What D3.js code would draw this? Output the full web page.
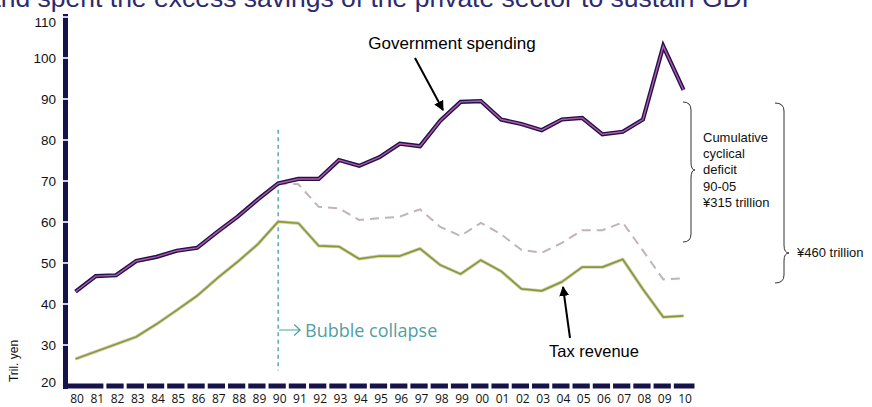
<!DOCTYPE html>
<html>
<head>
<meta charset="utf-8">
<script src="https://cdn.jsdelivr.net/npm/d3@7/dist/d3.min.js"></script>
<style>
  body { margin: 0; background: #fff; }
  svg { display: block; }
</style>
</head>
<body>
<svg id="chart" width="872" height="407"></svg>
<script>
// data (trillion yen, fiscal years 1980-2010)
const years = [1980, 1981, 1982, 1983, 1984, 1985, 1986, 1987, 1988, 1989, 1990,
  1991, 1992, 1993, 1994, 1995, 1996, 1997, 1998, 1999, 2000,
  2001, 2002, 2003, 2004, 2005, 2006, 2007, 2008, 2009, 2010];
const yearLabels = ['80', '81', '82', '83', '84', '85', '86', '87', '88', '89', '90',
  '91', '92', '93', '94', '95', '96', '97', '98', '99', '00',
  '01', '02', '03', '04', '05', '06', '07', '08', '09', '10'];
const govSpending = [43.0, 46.8, 47.0, 50.5, 51.5, 53.0, 53.7, 57.6, 61.3, 65.5, 69.4,
  70.5, 70.5, 75.1, 73.7, 75.8, 79.1, 78.5, 84.7, 89.3, 89.5,
  85.0, 83.9, 82.4, 85.0, 85.4, 81.4, 82.0, 85.0, 102.9, 92.2];
const taxRevenue = [26.6, 28.4, 30.2, 32.0, 35.1, 38.5, 42.0, 46.3, 50.3, 54.6, 60.1,
  59.7, 54.2, 54.0, 51.0, 51.7, 51.7, 53.5, 49.5, 47.3, 50.7,
  48.0, 43.7, 43.2, 45.4, 49.0, 49.0, 50.9, 43.6, 36.8, 37.1];
// trend revenue (dashed) from the bubble peak onwards
const trendYears = [1990, 1991, 1992, 1993, 1994, 1995, 1996, 1997, 1998, 1999, 2000,
  2001, 2002, 2003, 2004, 2005, 2006, 2007, 2008, 2009, 2010];
const trendRevenue = [69.4, 69.2, 63.7, 63.3, 60.5, 60.9, 61.3, 63.1, 58.8, 56.6, 59.8,
  57.0, 53.2, 52.5, 54.9, 58.0, 58.0, 59.9, 53.0, 46.0, 46.3];
const yTicks = [20, 30, 40, 50, 60, 70, 80, 90, 100, 110];

const svg = d3.select('#chart');

const x = d3.scaleLinear().domain([1980, 2010]).range([75.5, 683.5]);
const y = d3.scaleLinear().domain([20, 110]).range([386, 17]);
const step = x(1981) - x(1980);

const navy = '#16124a';

// title, cut off at the top of the slide as in the original
svg.append('text')
  .attr('x', -14)
  .attr('y', 6.5)
  .attr('font-family', 'Liberation Sans, Arial, sans-serif')
  .attr('font-size', 26.5)
  .attr('fill', '#2d2a6e')
  .text('and spent the excess savings of the private sector to sustain GDP');

// y axis: thick bar with white gaps at the ticks
svg.append('line')
  .attr('x1', 65.5).attr('x2', 65.5)
  .attr('y1', y(110) - 3).attr('y2', y(20) + 3)
  .attr('stroke', navy).attr('stroke-width', 5);

svg.selectAll('.ygap')
  .data(yTicks.filter(d => d > 20))
  .enter().append('line')
  .attr('class', 'ygap')
  .attr('x1', 62).attr('x2', 69)
  .attr('y1', d => y(d)).attr('y2', d => y(d))
  .attr('stroke', '#fff').attr('stroke-width', 1.6);

const yaxis = d3.axisLeft(y).tickValues(yTicks).tickSize(0).tickPadding(0);
const gy = svg.append('g')
  .attr('transform', 'translate(56,0)')
  .call(yaxis);
gy.select('.domain').remove();
gy.selectAll('text')
  .attr('font-family', 'Liberation Sans Narrow, Arial Narrow, Liberation Sans, sans-serif')
  .attr('font-size', 13.5)
  .attr('fill', '#111')
  .attr('dy', d => d === 110 ? '0.7em' : d === 20 ? '0.05em' : '0.32em');

// x axis: thick dashed bar
svg.append('line')
  .attr('x1', 63).attr('x2', x(2010) + 11)
  .attr('y1', 386).attr('y2', 386)
  .attr('stroke', navy).attr('stroke-width', 5);

svg.selectAll('.xgap')
  .data(years.slice(1, -1))
  .enter().append('line')
  .attr('class', 'xgap')
  .attr('x1', d => x(d) + step * 0.45).attr('x2', d => x(d) + step * 0.45)
  .attr('y1', 382).attr('y2', 390)
  .attr('stroke', '#fff').attr('stroke-width', 3);

const xaxis = d3.axisBottom(x).tickValues(years)
  .tickFormat((d, i) => yearLabels[i])
  .tickSize(0).tickPadding(0);
const gx = svg.append('g')
  .attr('transform', 'translate(1,394)')
  .call(xaxis);
gx.select('.domain').remove();
gx.selectAll('text')
  .attr('font-family', 'Open Sans, DejaVu Sans, sans-serif')
  .attr('font-size', 12)
  .attr('fill', '#111');

gy.attr('font-family', null);
gx.attr('font-family', null);

// bubble collapse marker
const teal = '#4f9fa5';
svg.append('line')
  .attr('x1', x(1990)).attr('x2', x(1990))
  .attr('y1', y(82.5)).attr('y2', y(23.8))
  .attr('stroke', '#5aa9ad').attr('stroke-width', 1.5)
  .attr('stroke-dasharray', '4,3.5');

svg.append('path')
  .attr('d', `M${x(1990) + 1},330 H${x(1990) + 22} M${x(1990) + 16},324.5 L${x(1990) + 22},330 L${x(1990) + 16},335.5`)
  .attr('fill', 'none').attr('stroke', teal).attr('stroke-width', 1.2);

svg.append('text')
  .attr('x', 305).attr('y', 336.5)
  .attr('font-family', 'Open Sans, DejaVu Sans, sans-serif')
  .attr('font-size', 18)
  .attr('fill', teal)
  .text('Bubble collapse');

// series
const line = (xs) => d3.line().x((d, i) => x(xs[i])).y(d => y(d));

svg.append('path')
  .datum(trendRevenue)
  .attr('d', line(trendYears))
  .attr('fill', 'none').attr('stroke', '#c2b3b4').attr('stroke-width', 2)
  .attr('stroke-dasharray', '9,6');

svg.append('path')
  .datum(taxRevenue)
  .attr('d', line(years))
  .attr('fill', 'none').attr('stroke', '#cfcfc4').attr('stroke-width', 3.4)
  .attr('stroke-linejoin', 'round');
svg.append('path')
  .datum(taxRevenue)
  .attr('d', line(years))
  .attr('fill', 'none').attr('stroke', '#8c9a2c').attr('stroke-width', 1.7)
  .attr('stroke-linejoin', 'round');

svg.append('path')
  .datum(govSpending)
  .attr('d', line(years))
  .attr('fill', 'none').attr('stroke', '#1d1350').attr('stroke-width', 4.2);
svg.append('path')
  .datum(govSpending)
  .attr('d', line(years))
  .attr('fill', 'none').attr('stroke', '#b9579f').attr('stroke-width', 1.4);

// labels with arrows
svg.append('defs').append('marker')
  .attr('id', 'head')
  .attr('viewBox', '0 0 10 10')
  .attr('refX', 9).attr('refY', 5)
  .attr('markerWidth', 5).attr('markerHeight', 5)
  .attr('orient', 'auto')
  .append('path').attr('d', 'M0,0 L10,5 L0,10 Z').attr('fill', '#000');

const labelFont = 'Liberation Sans, Arial, sans-serif';

svg.append('text')
  .attr('x', 452).attr('y', 49)
  .attr('text-anchor', 'middle')
  .attr('font-family', labelFont).attr('font-size', 17)
  .text('Government spending');
svg.append('line')
  .attr('x1', 415).attr('y1', 58).attr('x2', 443).attr('y2', 110)
  .attr('stroke', '#000').attr('stroke-width', 2)
  .attr('marker-end', 'url(#head)');

svg.append('text')
  .attr('x', 594).attr('y', 357)
  .attr('text-anchor', 'middle')
  .attr('font-family', labelFont).attr('font-size', 16.5)
  .text('Tax revenue');
svg.append('line')
  .attr('x1', 570).attr('y1', 338).attr('x2', 563).attr('y2', 287)
  .attr('stroke', '#000').attr('stroke-width', 2)
  .attr('marker-end', 'url(#head)');

// braces
function brace(xEnd, xSpine, xTip, yTop, yTip, yBottom, r) {
  return `M${xEnd},${yTop} Q${xSpine},${yTop} ${xSpine},${yTop + r}` +
    ` L${xSpine},${yTip - r} Q${xSpine},${yTip} ${xTip},${yTip}` +
    ` Q${xSpine},${yTip} ${xSpine},${yTip + r}` +
    ` L${xSpine},${yBottom - r} Q${xSpine},${yBottom} ${xEnd},${yBottom}`;
}

svg.append('path')
  .attr('d', brace(683, 691, 695, 102, 170, 242, 8))
  .attr('fill', 'none').attr('stroke', '#333').attr('stroke-width', 1);
svg.append('path')
  .attr('d', brace(775, 784, 789, 103, 253, 283, 8))
  .attr('fill', 'none').attr('stroke', '#333').attr('stroke-width', 1);

const noteLines = ['Cumulative', 'cyclical', 'deficit', '90-05', '¥315 trillion'];
svg.append('g')
  .selectAll('text')
  .data(noteLines)
  .enter().append('text')
  .attr('x', 703)
  .attr('y', (d, i) => 142 + i * 16.2)
  .attr('font-family', labelFont).attr('font-size', 13)
  .attr('fill', '#111')
  .text(d => d);

svg.append('text')
  .attr('x', 797).attr('y', 257)
  .attr('font-family', labelFont).attr('font-size', 13)
  .attr('fill', '#111')
  .text('¥460 trillion');

// vertical unit label
svg.append('text')
  .attr('transform', 'translate(18,361) rotate(-90)')
  .attr('text-anchor', 'middle')
  .attr('font-family', labelFont).attr('font-size', 12)
  .attr('fill', '#111')
  .text('Tril. yen');
</script>
</body>
</html>
